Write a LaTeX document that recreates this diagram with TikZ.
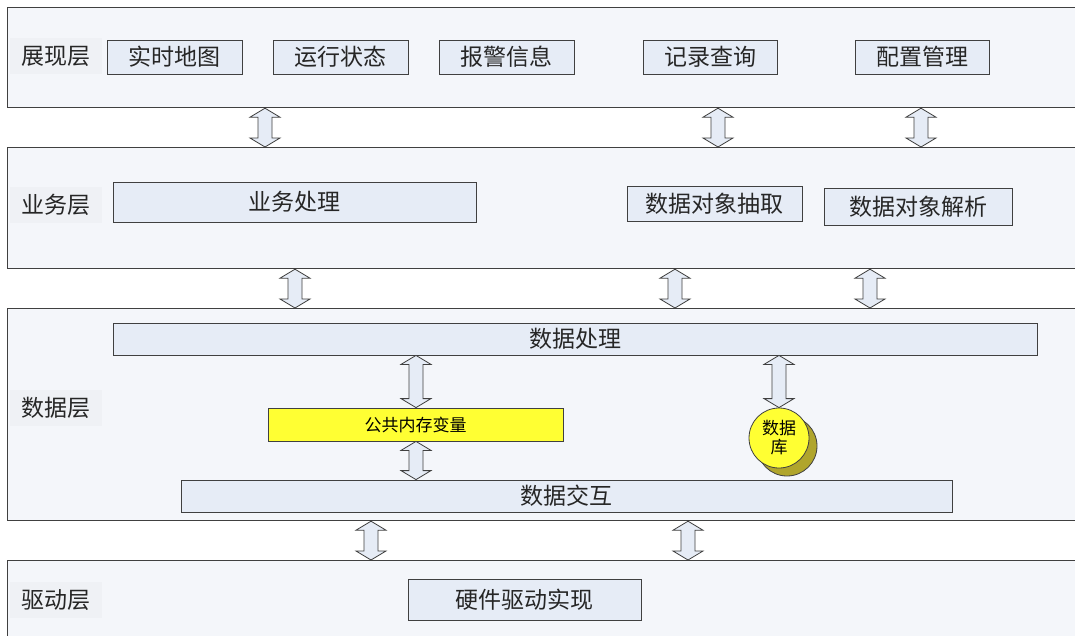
\documentclass[tikz,border=0pt]{standalone}
\usepackage{fontspec}
\setmainfont{Noto Sans CJK SC}
\usetikzlibrary{calc}
\definecolor{layfill}{HTML}{F4F6FA}
\definecolor{boxfill}{HTML}{E6ECF6}
\definecolor{labfill}{HTML}{EFF1F5}
\definecolor{yel}{HTML}{FFFF33}
\definecolor{dbshadow}{HTML}{B0A52C}
\definecolor{edge}{HTML}{404040}
\newcommand\fs[1]{\fontsize{#1}{#1}\selectfont}
\newcommand\barrow[3]{% x, upper node, lower node
  \draw[barr] let \p1=(#2.south), \p2=(#3.north) in
   (#1pt,\y1) -- (#1pt+15pt,\y1-9pt) -- (#1pt+7pt,\y1-9pt) -- (#1pt+7pt,\y2+9pt)
   -- (#1pt+15pt,\y2+9pt) -- (#1pt,\y2) -- (#1pt-15pt,\y2+9pt) -- (#1pt-7pt,\y2+9pt)
   -- (#1pt-7pt,\y1-9pt) -- (#1pt-15pt,\y1-9pt) -- cycle;}
\tikzset{
  lay/.style={draw=edge, line width=1.2pt, fill=layfill, anchor=north west, inner sep=0pt},
  lab/.style={fill=labfill, minimum width=92pt, minimum height=36pt, inner sep=0pt, font=\fs{23}, text=black!85},
  ibox/.style={draw=edge, line width=0.8pt, fill=boxfill, inner sep=0pt, font=\fs{23}, text=black!85},
  ybox/.style={draw=edge, line width=0.8pt, fill=yel, inner sep=0pt, font=\fs{17}},
  barr/.style={draw=edge, line width=0.8pt, fill=boxfill, line join=miter},
}
\begin{document}
\begin{tikzpicture}[x=1pt,y=-1pt]
\useasboundingbox (0,0) rectangle (1075,635);
\clip (0,0) rectangle (1075,635);
\fill[white] (0,0) rectangle (1075,635);
% layers
\node[lay, minimum width=1090pt, minimum height=100pt] (L1) at (7,7) {};
\node[lay, minimum width=1090pt, minimum height=121pt] (L2) at (7,147) {};
\node[lay, minimum width=1090pt, minimum height=212pt] (L3) at (7,308) {};
\node[lay, minimum width=1090pt, minimum height=110pt] (L4) at (7,560) {};
% layer labels
\node[lab] (t1) at (56,56) {展现层};
\node[lab] (t2) at (56,205) {业务层};
\node[lab] (t3) at (56,408) {数据层};
\node[lab] (t4) at (56,600) {驱动层};
% presentation
\node[ibox, minimum width=135pt, minimum height=34pt] (a1) at (174.5,57) {实时地图};
\node[ibox, minimum width=135pt, minimum height=34pt] (a2) at (340.5,57) {运行状态};
\node[ibox, minimum width=135pt, minimum height=34pt] (a3) at (506.5,57) {报警信息};
\node[ibox, minimum width=134pt, minimum height=34pt] (a4) at (710,57) {记录查询};
\node[ibox, minimum width=134pt, minimum height=34pt] (a5) at (922,57) {配置管理};
% business
\node[ibox, minimum width=363pt, minimum height=40pt] (b1) at (294.5,202) {业务处理};
\node[ibox, minimum width=175pt, minimum height=35pt] (b2) at (714.5,203.5) {数据对象抽取};
\node[ibox, minimum width=188pt, minimum height=37pt] (b3) at (918,206.5) {数据对象解析};
% data
\node[ibox, minimum width=924pt, minimum height=32pt] (c1) at (575,339) {数据处理};
\node[ybox, minimum width=295pt, minimum height=33pt] (c2) at (415.5,424.5) {公共内存变量};
\node[ibox, minimum width=771pt, minimum height=32pt] (c3) at (566.5,496) {数据交互};
\node[circle, draw=edge, line width=0.8pt, fill=dbshadow, minimum size=60pt, inner sep=0pt] (dbs) at (787,446) {};
\node[circle, draw=edge, line width=0.8pt, fill=yel, minimum size=60pt, inner sep=0pt, align=center, font=\fs{17}] (db) at (779,438) {数据\\[2pt]库};
% driver
\node[ibox, minimum width=233pt, minimum height=41pt] (d1) at (524.5,599.5) {硬件驱动实现};
% block arrows
\barrow{265}{L1}{L2}
\barrow{718}{L1}{L2}
\barrow{921}{L1}{L2}
\barrow{295}{L2}{L3}
\barrow{675}{L2}{L3}
\barrow{870}{L2}{L3}
\barrow{416}{c1}{c2}
\barrow{779}{c1}{db}
\barrow{416}{c2}{c3}
\barrow{371}{L3}{L4}
\barrow{688}{L3}{L4}
\end{tikzpicture}
\end{document}
